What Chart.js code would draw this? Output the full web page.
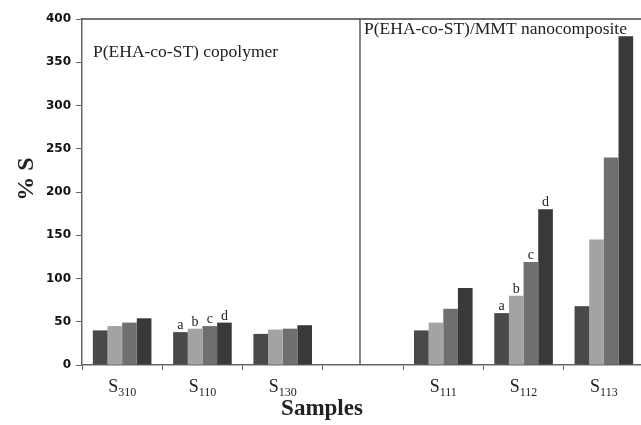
<!DOCTYPE html>
<html>
<head>
<meta charset="utf-8">
<script src="https://cdn.jsdelivr.net/npm/chart.js@4/dist/chart.umd.min.js"></script>
<style>
  html, body { margin: 0; padding: 0; background: #fff; overflow: hidden; }
  #wrap { width: 646px; height: 425px; }
</style>
</head>
<body>
<div id="wrap"><canvas id="chart"></canvas></div>
<script>
// sample names: main letter + subscript, blank slot separates the two groups
const samples = ['S310', 'S110', 'S130', '', 'S111', 'S112', 'S113'];
const seriesA = [40, 38, 36, null, 40, 60, 68];
const seriesB = [45, 42, 41, null, 49, 80, 145];
const seriesC = [49, 45, 42, null, 65, 119, 240];
const seriesD = [54, 49, 46, null, 89, 180, 380];
const seriesNames = ['a', 'b', 'c', 'd'];
const seriesColors = ['#494949', '#a3a3a3', '#6f6f6f', '#393939'];
const letteredSamples = ['S110', 'S112'];
const panelLeft = 'P(EHA-co-ST) copolymer';
const panelRight = 'P(EHA-co-ST)/MMT nanocomposite';

const decorations = {
  id: 'decorations',
  afterDraw(chart) {
    const ctx = chart.ctx;
    const area = chart.chartArea;
    const x = chart.scales.x;
    ctx.save();

    // frame line on top and the divider between the two groups
    ctx.strokeStyle = '#444';
    ctx.lineWidth = 1.3;
    ctx.beginPath();
    ctx.moveTo(area.left, area.top);
    ctx.lineTo(area.right, area.top);
    const divX = x.getPixelForValue(3) - 3;
    ctx.moveTo(divX, area.top);
    ctx.lineTo(divX, area.bottom);
    ctx.stroke();

    // panel captions
    ctx.fillStyle = '#222';
    ctx.font = '17.5px "Liberation Serif"';
    ctx.textBaseline = 'alphabetic';
    ctx.textAlign = 'left';
    ctx.fillText(panelLeft, area.left + 11, 57);
    ctx.fillText(panelRight, divX + 4, 34);

    // a/b/c/d letters over chosen samples
    ctx.font = '14px "Liberation Serif"';
    ctx.textAlign = 'center';
    letteredSamples.forEach(name => {
      const idx = samples.indexOf(name);
      seriesNames.forEach((letter, i) => {
        const bar = chart.getDatasetMeta(i).data[idx];
        ctx.fillText(letter, bar.x, bar.y - 3);
      });
    });

    // category labels with subscripts
    samples.forEach((name, i) => {
      if (!name) return;
      const cx = x.getPixelForValue(i);
      const main = name[0];
      const sub = name.slice(1);
      ctx.font = '18px "Liberation Serif"';
      const w1 = ctx.measureText(main).width;
      ctx.font = '12px "Liberation Serif"';
      const w2 = ctx.measureText(sub).width;
      const start = cx - (w1 + w2) / 2;
      ctx.textAlign = 'left';
      ctx.font = '18px "Liberation Serif"';
      ctx.fillText(main, start, 392);
      ctx.font = '12px "Liberation Serif"';
      ctx.fillText(sub, start + w1, 396);
    });

    // axis titles
    ctx.font = 'bold 23px "Liberation Serif"';
    ctx.textAlign = 'center';
    ctx.fillText('Samples', 322, 415);
    ctx.translate(33, 179);
    ctx.rotate(-Math.PI / 2);
    ctx.font = 'bold 24px "Liberation Serif"';
    ctx.fillText('% S', 0, 0);
    ctx.restore();
  }
};

const datasets = [seriesA, seriesB, seriesC, seriesD].map((values, i) => ({
  label: seriesNames[i],
  data: values,
  backgroundColor: seriesColors[i],
  borderWidth: 0,
  barPercentage: 1,
  categoryPercentage: 0.73
}));

new Chart(document.getElementById('chart'), {
  type: 'bar',
  data: { labels: samples, datasets: datasets },
  options: {
    responsive: true,
    maintainAspectRatio: false,
    animation: false,
    layout: { padding: { top: 19, right: 2, left: 0, bottom: 0 } },
    plugins: { legend: { display: false }, tooltip: { enabled: false } },
    scales: {
      x: {
        afterFit(scale) { scale.height = 60; },
        ticks: { display: false },
        grid: { display: true, drawOnChartArea: false, offset: true, tickLength: 5, color: '#666' },
        border: { display: true, color: '#666', width: 1.5 }
      },
      y: {
        min: 0,
        max: 400,
        afterFit(scale) { scale.width = 82; },
        ticks: {
          stepSize: 50,
          padding: 5,
          color: '#111',
          font: { family: '"DejaVu Sans"', size: 12, weight: 'bold' }
        },
        grid: { drawOnChartArea: false, tickLength: 6, color: '#666' },
        border: { display: true, color: '#666', width: 1.5 }
      }
    }
  },
  plugins: [decorations]
});
</script>
</body>
</html>
